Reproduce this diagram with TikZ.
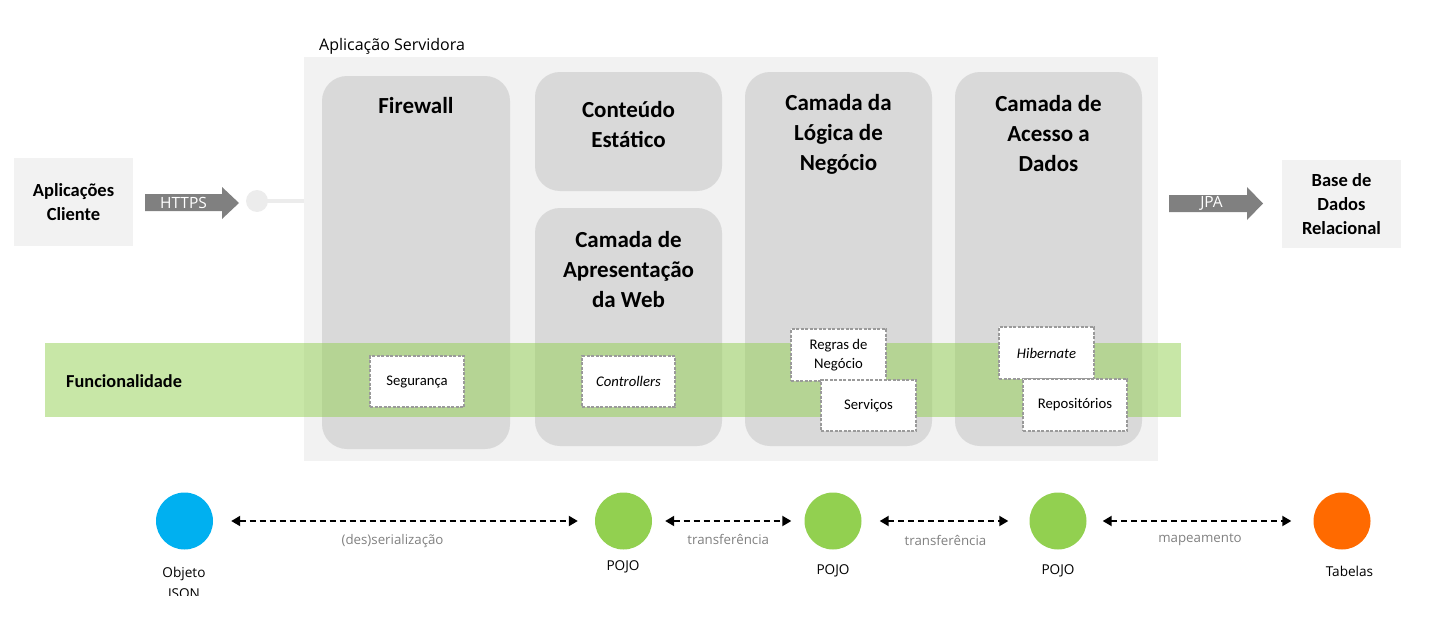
\documentclass[tikz,border=0pt]{standalone}
\usepackage{fontspec}
\setmainfont{Carlito}
\newfontfamily\osans{Open Sans}
\usetikzlibrary{arrows.meta}
\definecolor{srvbg}{HTML}{F2F2F2}
\definecolor{colbg}{HTML}{D9D9D9}
\definecolor{arrowc}{HTML}{808080}
\definecolor{dotc}{HTML}{ECECEC}
\definecolor{bandc}{RGB}{146,208,80}
\definecolor{boxline}{HTML}{9A9A9A}
\definecolor{lblc}{HTML}{808080}
\definecolor{jsonc}{HTML}{00B0F0}
\definecolor{pojoc}{HTML}{92D050}
\definecolor{tabc}{HTML}{FF6A00}
\begin{document}
\begin{tikzpicture}[x=1pt,y=-1pt,
  plainbox/.style={fill=srvbg, inner sep=0pt},
  colbox/.style={fill=colbg, rounded corners=25pt, inner sep=0pt},
  head/.style={align=center, font=\bfseries\fontsize{23}{30}\selectfont, inner sep=0pt},
  sidehead/.style={align=center, font=\bfseries\fontsize{18.5}{24}\selectfont, inner sep=0pt},
  band/.style={fill=bandc, fill opacity=0.5, inner sep=0pt},
  wbox/.style={fill=white, draw=boxline, line width=1.2pt, dash pattern=on 3pt off 1.5pt, inner sep=0pt, align=center, font=\fontsize{14.7}{19}\selectfont},
  blockarrow/.style={fill=arrowc},
  arrowtxt/.style={text=white, font=\osans\fontsize{15.5}{17}\selectfont, inner sep=0pt},
  obj/.style={circle, inner sep=0pt, minimum width=56pt, minimum height=57pt},
  objlbl/.style={align=center, font=\osans\fontsize{13.6}{21}\selectfont, inner sep=0pt},
  dasharrow/.style={{Triangle[length=9pt,width=10pt]}-{Triangle[length=9pt,width=10pt]}, line width=2pt, dash pattern=on 6pt off 4pt},
  edgelbl/.style={text=lblc, font=\osans\fontsize{13.3}{15}\selectfont, inner sep=0pt}
]
\useasboundingbox (0,0) rectangle (1433,629);

% client and database boxes
\node[plainbox, minimum width=119pt, minimum height=88pt] (client) at (73.5,202) {};
\node[sidehead] (clientt) at (client.center) {Aplicações\\Cliente};
\node[plainbox, minimum width=119pt, minimum height=88pt] (db) at (1341.5,204) {};
\node[sidehead] (dbt) at (db.center) {Base de\\Dados\\Relacional};

% server container
\node[plainbox, minimum width=854pt, minimum height=404pt] (srv) at (731,259) {};
\node[anchor=west, inner sep=0pt, font=\osans\fontsize{16}{18}\selectfont] (srvlbl) at (319,46) {Aplicação Servidora};

% columns
\node[colbox, minimum width=188pt, minimum height=373pt] (fw) at (416,262.5) {};
\node[colbox, minimum width=187pt, minimum height=119pt] (ce) at (628.5,131.5) {};
\node[colbox, minimum width=187pt, minimum height=238pt] (ap) at (628.5,327) {};
\node[colbox, minimum width=187pt, minimum height=374pt] (ln) at (838.5,259) {};
\node[colbox, minimum width=187pt, minimum height=374pt] (ad) at (1048.5,259) {};

\node[head] (fwt) at (416,106) {Firewall};
\node[head] (cet) at (628.5,125) {Conteúdo\\Estático};
\node[head] (apt) at (628.5,270) {Camada de\\Apresentação\\da Web};
\node[head] (lnt) at (838.5,134) {Camada da\\Lógica de\\Negócio};
\node[head] (adt) at (1048.5,134) {Camada de\\Acesso a\\Dados};

% functionality band
\node[band, minimum width=1136pt, minimum height=74pt] (band) at (613,380) {};
\node[anchor=west, inner sep=0pt, font=\bfseries\fontsize{18.3}{21}\selectfont] (bandt) at (66,381) {Funcionalidade};

% functionality boxes
\node[wbox, minimum width=94pt, minimum height=51pt] (seg) at (417,381.5) {Segurança};
\node[wbox, minimum width=93pt, minimum height=51pt] (ctl) at (628.5,381.5) {\itshape Controllers};
\node[wbox, minimum width=95pt, minimum height=52pt] (reg) at (838.5,355) {Regras de\\Negócio};
\node[wbox, minimum width=95pt, minimum height=51pt] (svc) at (868.5,405.5) {Serviços};
\node[wbox, minimum width=95pt, minimum height=52pt] (hib) at (1046.5,353) {\itshape Hibernate};
\node[wbox, minimum width=104pt, minimum height=52pt] (rep) at (1075,405) {Repositórios};

% block arrows
\fill[blockarrow] (145,194) -- (222,194) -- (222,187) -- (239,203) -- (222,219) -- (222,211) -- (145,211) -- cycle;
\node[arrowtxt] (https) at (183.5,203) {HTTPS};
\fill[blockarrow] (1169,195) -- (1247,195) -- (1247,187) -- (1263,203.5) -- (1247,220) -- (1247,212) -- (1169,212) -- cycle;
\node[arrowtxt] (jpa) at (1211.5,203.5) {JPA};

% socket
\node[circle, fill=dotc, minimum size=22pt, inner sep=0pt] (sock) at (257,201) {};
\draw[dotc, line width=4.5pt] (sock.center) -- (srv.west |- sock.center);

% data objects
\node[obj, fill=jsonc] (json) at (184.5,521) {};
\node[obj, fill=pojoc] (pojoa) at (623.5,521) {};
\node[obj, fill=pojoc] (pojob) at (833,521) {};
\node[obj, fill=pojoc] (pojoc) at (1058,521) {};
\node[obj, fill=tabc] (tab) at (1342,521) {};

\begin{scope}
\clip (0,0) rectangle (1433,595.5);
\node[objlbl, anchor=base] (jsont) at (184,598) {Objeto\\JSON};
\end{scope}
\node[objlbl] (pojoat) at (623,567) {POJO};
\node[objlbl] (pojobt) at (833,571) {POJO};
\node[objlbl] (pojoct) at (1058,571) {POJO};
\node[objlbl] (tabt) at (1349.5,571) {Tabelas};

\draw[dasharrow, shorten <=18pt, shorten >=17pt] (json.east) -- node[edgelbl, pos=0.47, below=12pt] (l1) {(des)serialização} (pojoa.west);
\draw[dasharrow, shorten <=13pt, shorten >=13pt] (pojoa.east) -- node[edgelbl, pos=0.5, below=12pt] (l2) {transferência} (pojob.west);
\draw[dasharrow, shorten <=18pt, shorten >=21pt] (pojob.east) -- node[edgelbl, pos=0.5, below=13pt] (l3) {transferência} (pojoc.west);
\draw[dasharrow, shorten <=16pt, shorten >=22pt] (pojoc.east) -- node[edgelbl, pos=0.5, below=12pt] (l4) {mapeamento} (tab.west);
\end{tikzpicture}
\end{document}
